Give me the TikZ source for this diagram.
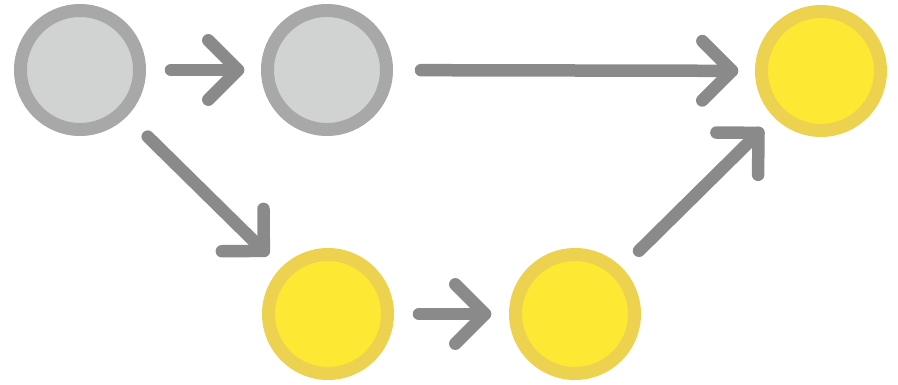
\documentclass[tikz,border=0pt]{standalone}
\usetikzlibrary{calc}
\definecolor{greyfill}{HTML}{D1D3D2}
\definecolor{greyline}{HTML}{A8A8A8}
\definecolor{yelfill}{HTML}{FDE934}
\definecolor{yelline}{HTML}{ECD24E}
\definecolor{arrowgrey}{HTML}{8A8A8A}
\begin{document}
\begin{tikzpicture}[x=1pt,y=-1pt,
  dot/.style={circle, minimum size=119pt, inner sep=0pt, line width=13pt},
  greydot/.style={dot, fill=greyfill, draw=greyline},
  yeldot/.style={dot, fill=yelfill, draw=yelline},
  conn/.style={draw=arrowgrey, line width=12.5pt, line cap=round, line join=round}]
\useasboundingbox (0,0) rectangle (898,385);
\node[greydot] (A) at (80,70) {};
\node[greydot] (B) at (327,70) {};
\node[yeldot]  (C) at (821,71) {};
\node[yeldot]  (D) at (328,314) {};
\node[yeldot]  (E) at (575,314) {};
% A -> B
\coordinate (tAB) at ($(B)!89pt!(A)$);
\draw[conn] ($(A)!91pt!(B)$) -- (tAB);
\draw[conn] ($(tAB)!42pt!45:(A)$) -- (tAB) -- ($(tAB)!42pt!-45:(A)$);
% B -> C
\coordinate (tBC) at ($(C)!89pt!(B)$);
\draw[conn] ($(B)!94pt!(C)$) -- (tBC);
\draw[conn] ($(tBC)!42pt!45:(B)$) -- (tBC) -- ($(tBC)!42pt!-45:(B)$);
% A -> D
\coordinate (tAD) at ($(D)!90pt!(A)$);
\draw[conn] ($(A)!95pt!(D)$) -- (tAD);
\draw[conn] ($(tAD)!42pt!45:(A)$) -- (tAD) -- ($(tAD)!42pt!-45:(A)$);
% D -> E
\coordinate (tDE) at ($(E)!90pt!(D)$);
\draw[conn] ($(D)!91pt!(E)$) -- (tDE);
\draw[conn] ($(tDE)!42pt!45:(D)$) -- (tDE) -- ($(tDE)!42pt!-45:(D)$);
% E -> C
\coordinate (tEC) at ($(C)!88pt!(E)$);
\draw[conn] ($(E)!90pt!(C)$) -- (tEC);
\draw[conn] ($(tEC)!42pt!45:(E)$) -- (tEC) -- ($(tEC)!42pt!-45:(E)$);
\end{tikzpicture}
\end{document}
